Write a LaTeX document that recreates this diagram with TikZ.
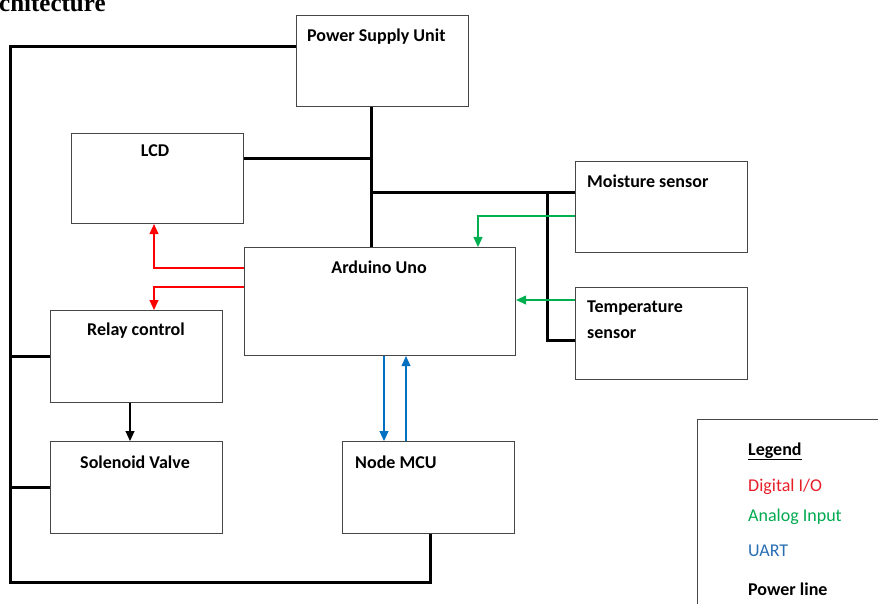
\documentclass[tikz,border=0pt]{standalone}
\usepackage{fontspec}
\setmainfont{Carlito}
\newfontfamily\headfont{Liberation Serif}
\usetikzlibrary{arrows.meta}
\definecolor{dred}{RGB}{255,0,0}
\definecolor{agreen}{RGB}{0,176,80}
\definecolor{ublue}{RGB}{0,112,192}
\definecolor{lred}{RGB}{230,30,40}
\definecolor{lgreen}{RGB}{0,170,80}
\definecolor{lblue}{RGB}{40,110,180}
\definecolor{boxgray}{RGB}{70,70,70}
\tikzset{
  blk/.style={draw=boxgray, line width=1.1pt, fill=white, anchor=north west, inner sep=0pt},
  lbl/.style={font=\fontsize{18}{20}\selectfont\bfseries, inner sep=0pt},
  leg/.style={font=\fontsize{18}{20}\selectfont, inner sep=0pt, anchor=base west},
  pw/.style={line width=3pt, black},
  thinarrow/.style={line width=1.1pt, -{Triangle[length=10pt,width=9pt]}},
  dig/.style={thinarrow, dred},
  ana/.style={thinarrow, agreen},
  uart/.style={thinarrow, ublue},
  sig/.style={thinarrow, black},
}
\begin{document}
\begin{tikzpicture}[x=1pt,y=-1pt]
\useasboundingbox (0,0) rectangle (878,604);
\clip (0,0) rectangle (878,604);
\fill[white] (0,0) rectangle (878,604);
% heading fragment
\node[anchor=base west, inner sep=0pt, font=\headfont\fontsize{25}{28}\selectfont\bfseries] (head) at (-1,12) {chitecture};
% boxes
\node[blk, minimum width=172, minimum height=91] (psu) at (296,15) {};
\node[blk, minimum width=172, minimum height=90] (lcd) at (71,133) {};
\node[blk, minimum width=172, minimum height=91] (moist) at (575,161) {};
\node[blk, minimum width=271, minimum height=108] (ard) at (244,247) {};
\node[blk, minimum width=172, minimum height=92] (temp) at (575,287) {};
\node[blk, minimum width=172, minimum height=92] (relay) at (50,310) {};
\node[blk, minimum width=172, minimum height=92] (sol) at (50,441) {};
\node[blk, minimum width=172, minimum height=92] (nmcu) at (342,441) {};
\node[blk, minimum width=200, minimum height=200] (legbox) at (697,419) {};
% labels
\node[lbl, anchor=base west] (psut) at (307,42) {Power Supply Unit};
\node[lbl, anchor=base] (lcdt) at (155,157) {LCD};
\node[lbl, anchor=base west] (moistt) at (587,188) {Moisture sensor};
\node[lbl, anchor=base] (ardt) at (379,273) {Arduino Uno};
\node[lbl, anchor=base west] (tempt) at (587,312) {Temperature};
\node[lbl, anchor=base west] (tempt2) at (587,338) {sensor};
\node[lbl, anchor=base] (relayt) at (136,335) {Relay control};
\node[lbl, anchor=base] (solt) at (135,468) {Solenoid Valve};
\node[lbl, anchor=base west] (nmcut) at (355,468) {Node MCU};
% legend
\node[leg, font=\fontsize{18}{20}\selectfont\bfseries] (legt) at (748,455) {\underline{Legend}};
\node[leg, text=lred] (legd) at (748,491) {Digital I/O};
\node[leg, text=lgreen] (lega) at (748,521) {Analog Input};
\node[leg, text=lblue] (legu) at (748,556) {UART};
\node[leg, font=\fontsize{18}{20}\selectfont\bfseries] (legp) at (748,595) {Power line};
% power lines
\draw[pw] (psu.west |- 0,47) -| (10,582) -| (nmcu.south -| 430,0);
\draw[pw] (relay.west -| 10,0) -- (relay.west);
\draw[pw] (sol.west -| 10,0) -- (sol.west);
\draw[pw] (psu.south -| 371,0) -- (ard.north -| 371,0);
\draw[pw] (lcd.east |- 0,159) -- (371,159);
\draw[pw] (371,193) -- (moist.west |- 0,193);
\draw[pw] (547,193) |- (temp.west |- 0,340);
% digital I/O
\draw[dig] (ard.west |- 0,268) -| (lcd.south -| 154,0);
\draw[dig] (ard.west |- 0,287) -| (relay.north -| 154,0);
% analog
\draw[ana] (moist.west |- 0,216) -| (ard.north -| 478,0);
\draw[ana] (temp.west |- 0,300) -- (ard.east |- 0,300);
% UART
\draw[uart] (ard.south -| 384,0) -- (nmcu.north -| 384,0);
\draw[uart] (nmcu.north -| 406,0) -- (ard.south -| 406,0);
% relay to valve
\draw[sig] (relay.south -| 130,0) -- (sol.north -| 130,0);
\end{tikzpicture}
\end{document}
